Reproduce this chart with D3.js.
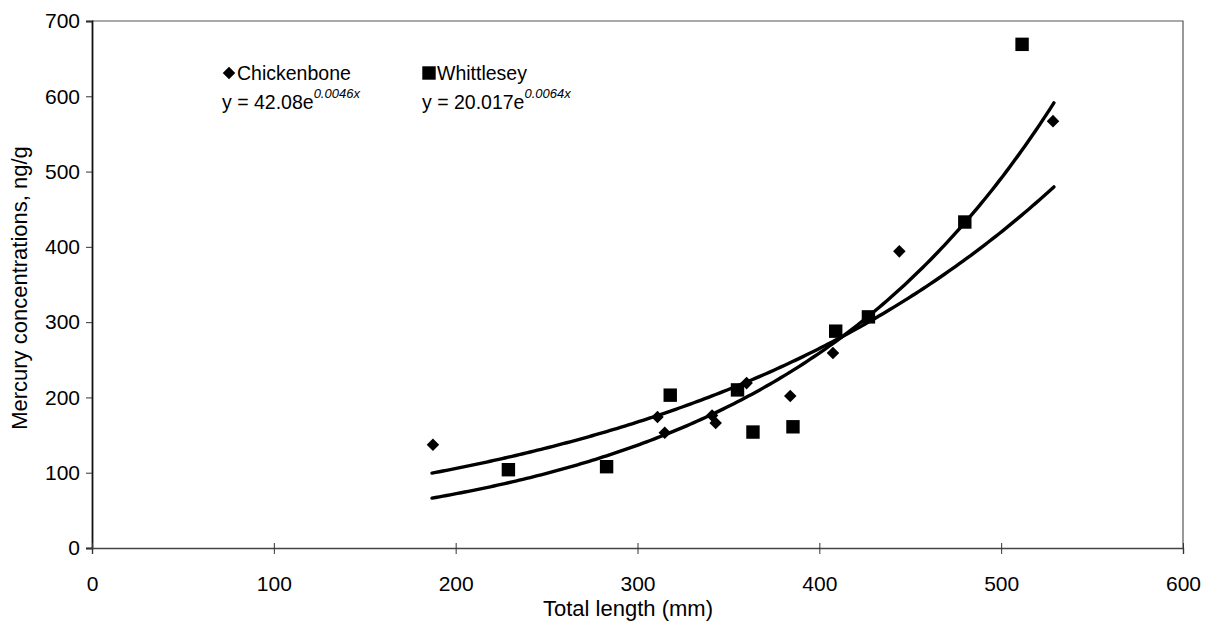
<!DOCTYPE html>
<html>
<head>
<meta charset="utf-8">
<script src="https://cdn.jsdelivr.net/npm/d3@7"></script>
<style>
  body { margin: 0; background: #fff; }
  text { font-family: "Liberation Sans", Arial, sans-serif; fill: #000; }
</style>
</head>
<body>
<svg width="1210" height="627"></svg>
<script>
const svg = d3.select('svg');

// Chickenbone (diamonds)
const chickenX = [187.5, 311, 315, 341, 343, 360, 384, 407.5, 444, 528.5];
const chickenY = [137, 174, 153, 176, 166, 219, 202, 259, 394, 567];
// Whittlesey (squares)
const whittX = [229, 283, 318, 355, 363.5, 385.5, 409, 427, 480, 511.5];
const whittY = [104, 108, 203, 210, 154, 161, 288, 307, 433, 669];

// exponential trendlines shown on chart: y = a * e^(b x)
const chickenFit = {a: 42.08, b: 0.0046, from: 187, to: 529};
const whittFit = {a: 20.017, b: 0.0064, from: 187, to: 529};

const xTicks = [0, 100, 200, 300, 400, 500, 600];
const yTicks = [0, 100, 200, 300, 400, 500, 600, 700];

const margin = {left: 92, top: 21, right: 1183, bottom: 548};

const xScale = d3.scaleLinear().domain([0, 600]).range([margin.left, margin.right]);
const yScale = d3.scaleLinear().domain([0, 700]).range([margin.bottom, margin.top]);

// frame (top and right)
svg.append('path')
  .attr('d', `M${margin.left},${margin.top}H${margin.right}V${margin.bottom}`)
  .attr('fill', 'none')
  .attr('stroke', '#555')
  .attr('stroke-width', 1.2);

// y axis
const yAxisG = svg.append('g')
  .attr('transform', `translate(${margin.left},0)`)
  .call(d3.axisLeft(yScale).tickValues(yTicks).tickSize(6).tickPadding(6));
yAxisG.select('.domain').attr('stroke', '#111').attr('stroke-width', 1.8);
yAxisG.selectAll('.tick line').attr('stroke', '#333');
yAxisG.selectAll('.tick text').attr('font-size', 21).attr('fill', '#000');

// x axis
const xAxisG = svg.append('g')
  .attr('transform', `translate(0,${margin.bottom})`)
  .call(d3.axisBottom(xScale).tickValues(xTicks).tickSize(6).tickPadding(22));
xAxisG.select('.domain').attr('stroke', '#444').attr('stroke-width', 1.4);
xAxisG.selectAll('.tick line').attr('y1', -5).attr('stroke', '#333');
xAxisG.selectAll('.tick text')
  .attr('font-size', 21)
  .attr('fill', '#000');

// axis labels
svg.append('text')
  .attr('x', 628).attr('y', 616)
  .attr('text-anchor', 'middle')
  .attr('font-size', 22)
  .text('Total length (mm)');

svg.append('text')
  .attr('transform', `translate(27,288) rotate(-90)`)
  .attr('text-anchor', 'middle')
  .attr('font-size', 22)
  .text('Mercury concentrations, ng/g');

// trendlines
function fitPoints(fit) {
  return d3.range(fit.from, fit.to + 0.5, 2).map(x => [x, fit.a * Math.exp(fit.b * x)]);
}
const line = d3.line().x(d => xScale(d[0])).y(d => yScale(d[1]));
[chickenFit, whittFit].forEach(fit => {
  svg.append('path')
    .attr('d', line(fitPoints(fit)))
    .attr('fill', 'none')
    .attr('stroke', '#000')
    .attr('stroke-width', 3.4)
    .attr('stroke-linecap', 'round');
});

// markers
const diamond = d3.symbol().type(d3.symbolDiamond2).size(100);
const square = d3.symbol().type(d3.symbolSquare).size(180);

svg.append('g').selectAll('path')
  .data(d3.zip(chickenX, chickenY))
  .join('path')
  .attr('transform', d => `translate(${xScale(d[0])},${yScale(d[1])})`)
  .attr('d', diamond)
  .attr('fill', '#000');

svg.append('g').selectAll('path')
  .data(d3.zip(whittX, whittY))
  .join('path')
  .attr('transform', d => `translate(${xScale(d[0])},${yScale(d[1])})`)
  .attr('d', square)
  .attr('fill', '#000');

// legend
const legend = [
  {name: 'Chickenbone', sym: diamond, x: 229, coef: '42.08', exp: '0.0046x'},
  {name: 'Whittlesey', sym: square, x: 429, coef: '20.017', exp: '0.0064x'}
];
legend.forEach(l => {
  svg.append('path')
    .attr('transform', `translate(${l.x},73)`)
    .attr('d', l.sym)
    .attr('fill', '#000');
  svg.append('text')
    .attr('x', l.x + 8).attr('y', 80)
    .attr('font-size', 19.5)
    .text(l.name);
  const t = svg.append('text')
    .attr('x', l.x - 7).attr('y', 109)
    .attr('font-size', 19.5);
  t.append('tspan').text(`y = ${l.coef}e`);
  t.append('tspan')
    .attr('dy', -11)
    .attr('font-size', 13)
    .attr('font-style', 'italic')
    .text(l.exp);
});
</script>
</body>
</html>
